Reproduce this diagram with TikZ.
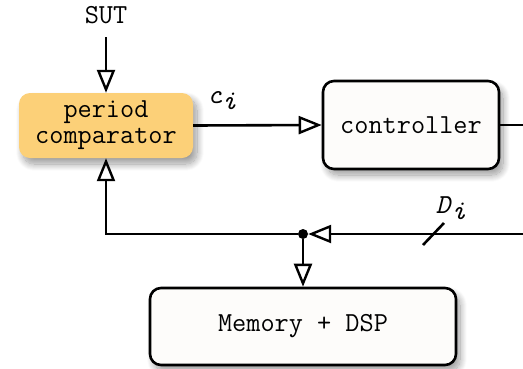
\documentclass[tikz,border=0pt]{standalone}
\usepackage{fontspec}
\usetikzlibrary{arrows.meta,shadows.blur}
\definecolor{pcorange}{RGB}{252,208,120}
\definecolor{boxwhite}{RGB}{253,252,250}
\tikzset{
  lbl/.style={font=\ttfamily\fontsize{27.5}{26}\selectfont, inner sep=0pt},
  blk/.style={lbl, rounded corners=11pt, minimum height=#1},
  shad/.style={blur shadow={shadow xshift=4pt, shadow yshift=-6pt, shadow blur steps=14, shadow opacity=40, shadow blur radius=7pt}},
  wire/.style={line width=2.6pt},
  tri/.style={-{Triangle[open,length=23pt,width=18pt,line width=2.4pt]}},
}
\begin{document}
\begin{tikzpicture}[x=1pt,y=-1pt]
\useasboundingbox (0,0) rectangle (523,368);
\node[lbl] (sut) at (106,15) {SUT};
\node[blk=65pt, minimum width=174pt, fill=pcorange, shad, align=center] (pc) at (106,125.5) {period\\comparator};
\node[blk=88pt, minimum width=176pt, fill=boxwhite, draw, line width=2.6pt, shad] (ctrl) at (411,125) {controller};
\node[blk=77pt, minimum width=306pt, fill=boxwhite, draw, line width=2.6pt, shad] (mem) at (303,326.5) {Memory + DSP};
\node[lbl] (ci) at (222,101) {\textit{c}\raisebox{-6pt}{\textit{i}}};
\node[lbl] (di) at (451,208) {\textit{D}\raisebox{-6pt}{\textit{i}}};
\node[circle, fill=black, inner sep=0pt, minimum size=10pt] (dot) at (303,234) {};
\coordinate (sutend) at (106,37);
\coordinate (outR) at (523,125);
\coordinate (inR) at (523,234);
\coordinate (sl1) at (423,245);
\coordinate (sl2) at (444,223);
\draw[wire,tri] (sutend) -- (pc.north);
\draw[wire,tri] (pc.east) -- (ctrl.west);
\draw[wire] (ctrl.east) -- (outR);
\draw[wire,tri] (inR) -- (dot);
\draw[wire,tri] (dot) -| (pc.south);
\draw[wire,tri] (dot) -- (mem.north);
\draw[wire] (sl1) -- (sl2);
\end{tikzpicture}
\end{document}
